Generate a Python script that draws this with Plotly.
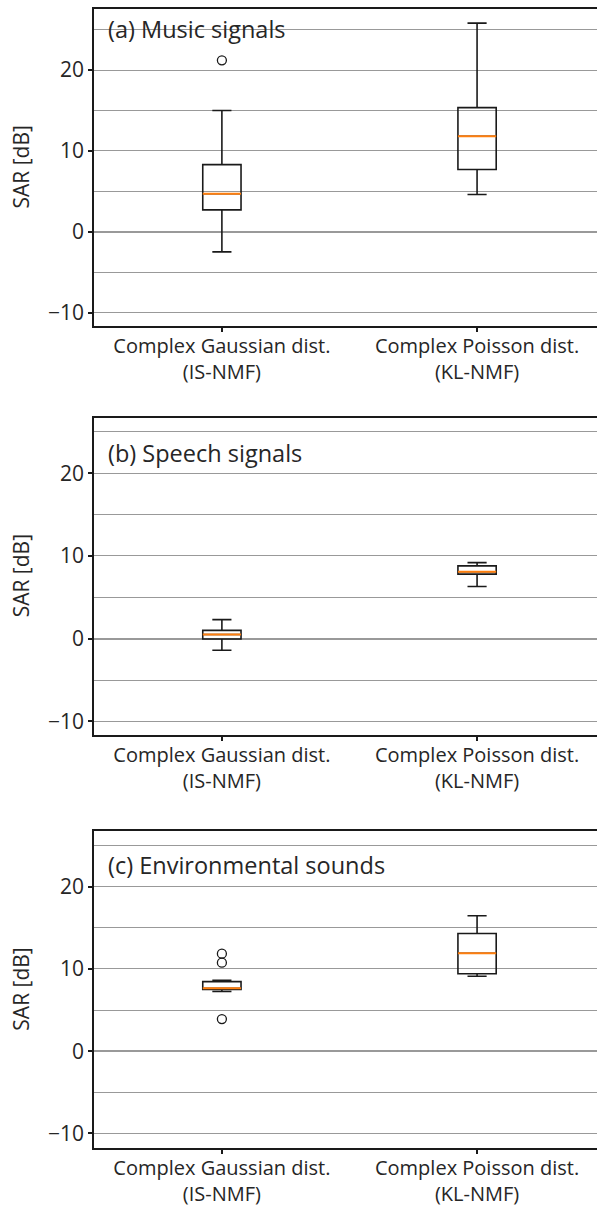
import plotly.graph_objects as go

# ---------------- data ----------------
categories = ["Complex Gaussian dist.<br>(IS-NMF)", "Complex Poisson dist.<br>(KL-NMF)"]
positions = [1, 2]
panel_titles = ["(a) Music signals", "(b) Speech signals", "(c) Environmental sounds"]

music_lower = [-2.5, 4.6]
music_q1 = [2.7, 7.7]
music_median = [4.7, 11.8]
music_q3 = [8.3, 15.35]
music_upper = [15.0, 25.8]
music_outliers = [[21.2], []]

speech_lower = [-1.4, 6.3]
speech_q1 = [-0.05, 7.8]
speech_median = [0.5, 8.1]
speech_q3 = [1.0, 8.8]
speech_upper = [2.3, 9.2]
speech_outliers = [[], []]

env_lower = [7.25, 9.1]
env_q1 = [7.5, 9.4]
env_median = [7.65, 11.9]
env_q3 = [8.45, 14.3]
env_upper = [8.6, 16.45]
env_outliers = [[11.85, 10.75, 3.9], []]

ytick_vals = [-10, 0, 10, 20]
ytick_text = ["\u221210", "0", "10", "20"]

panels = [
    (music_lower, music_q1, music_median, music_q3, music_upper, music_outliers),
    (speech_lower, speech_q1, speech_median, speech_q3, speech_upper, speech_outliers),
    (env_lower, env_q1, env_median, env_q3, env_upper, env_outliers),
]

# ---------------- layout geometry ----------------
W, H = 597, 1206
FONT = "Open Sans"
TXT = "#262626"
SPINE = "#1a1a1a"
GRID = "#999999"
ORANGE = "#ff7f0e"

# pixel positions (top, bottom) for each panel
panel_px = [(9, 326), (417.7, 735), (831, 1148.3)]
y_ranges = [[-11.67, 27.55], [-11.65, 26.72], [-11.8, 26.75]]
title_y = [0.937, 0.889, 0.893]
x_left_px = 94.3

fig = go.Figure()
layout = dict(
    width=W, height=H,
    margin=dict(l=0, r=0, t=0, b=0),
    paper_bgcolor="white", plot_bgcolor="white",
    showlegend=False, boxmode="overlay",
    font=dict(family=FONT, color=TXT, size=18),
)
annotations = []

for i, (lo, q1, med, q3, up, outl) in enumerate(panels):
    xa = "x" if i == 0 else f"x{i+1}"
    ya = "y" if i == 0 else f"y{i+1}"
    xkey = "xaxis" if i == 0 else f"xaxis{i+1}"
    ykey = "yaxis" if i == 0 else f"yaxis{i+1}"
    top, bot = panel_px[i]
    dom = [(H - bot) / H, (H - top) / H]

    # main boxes
    fig.add_trace(go.Box(
        x=positions, q1=q1, median=med, q3=q3, lowerfence=lo, upperfence=up,
        width=0.15, whiskerwidth=0.5,
        line=dict(color=SPINE, width=1.6), fillcolor="rgba(0,0,0,0)",
        boxpoints=False, xaxis=xa, yaxis=ya, hoverinfo="skip",
    ))
    # orange medians
    fig.add_trace(go.Box(
        x=positions, q1=med, median=med, q3=med, lowerfence=med, upperfence=med,
        width=0.15, whiskerwidth=0,
        line=dict(color=ORANGE, width=2), fillcolor="rgba(0,0,0,0)",
        boxpoints=False, xaxis=xa, yaxis=ya, hoverinfo="skip",
    ))
    # outliers
    ox, oy = [], []
    for p, vals in zip(positions, outl):
        for v in vals:
            ox.append(p)
            oy.append(v)
    fig.add_trace(go.Scatter(
        x=ox, y=oy, mode="markers",
        marker=dict(symbol="circle-open", size=9, color=SPINE, line=dict(width=1.3)),
        xaxis=xa, yaxis=ya, hoverinfo="skip",
    ))

    layout[xkey] = dict(
        domain=[x_left_px / W, 1.0], range=[0.5, 2.47], anchor=ya,
        tickmode="array", tickvals=positions, ticktext=categories,
        ticks="outside", ticklen=4, tickwidth=1.5, tickcolor=SPINE,
        ticklabelstandoff=-3,
        showline=True, linecolor=SPINE, linewidth=2, mirror=True,
        showgrid=False, zeroline=False,
        tickfont=dict(family=FONT, size=20, color=TXT),
    )
    layout[ykey] = dict(
        domain=dom, range=y_ranges[i], anchor=xa,
        tickmode="array", tickvals=ytick_vals, ticktext=ytick_text,
        ticks="outside", ticklen=4, tickwidth=1.5, tickcolor=SPINE,
        showline=True, linecolor=SPINE, linewidth=2, mirror=False,
        showgrid=True, gridcolor=GRID, gridwidth=1,
        minor=dict(dtick=5, tick0=0, showgrid=True, gridcolor=GRID, gridwidth=1, ticks=""),
        zeroline=True, zerolinecolor=GRID, zerolinewidth=2,
        tickfont=dict(family=FONT, size=21, color=TXT),
    )
    annotations.append(dict(
        text=panel_titles[i], xref=f"{xa} domain", yref=f"{ya} domain",
        x=0.024, y=title_y[i], xanchor="left", yanchor="middle",
        showarrow=False, font=dict(family=FONT, size=23.5, color=TXT),
    ))
    annotations.append(dict(
        text="SAR [dB]", xref="paper", yref="paper",
        x=21 / W, y=(dom[0] + dom[1]) / 2, xanchor="center", yanchor="middle",
        textangle=-90, showarrow=False, font=dict(family=FONT, size=21, color=TXT),
    ))

layout["annotations"] = annotations
fig.update_layout(**layout)
fig.write_html("out.html")
